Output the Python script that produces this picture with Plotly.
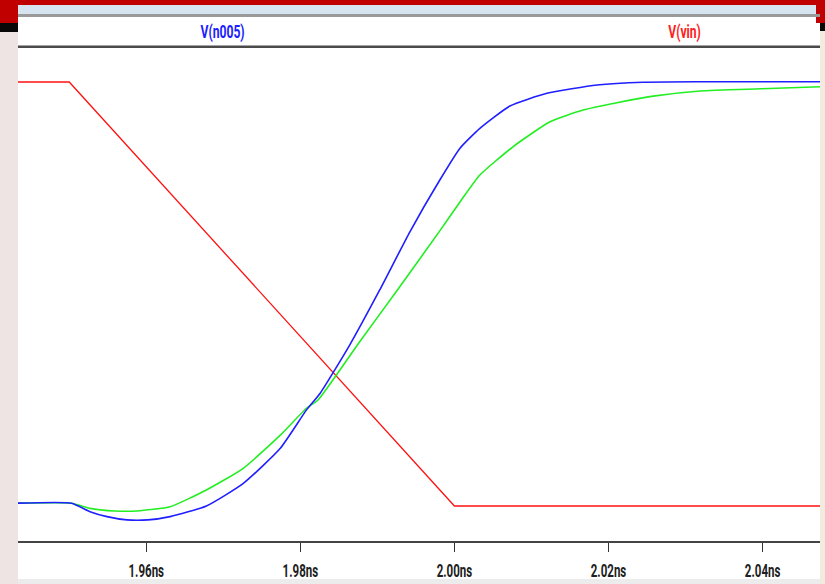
import plotly.graph_objects as go

# ---- data (time in ns, voltage in V) ----
vin_t = [1.9433, 1.950, 2.000, 2.0475]
vin_v = [1.80, 1.80, 0.00, 0.00]

n005_t = [1.9433, 1.9503, 1.9527, 1.9549, 1.9575, 1.9602, 1.9631, 1.9678, 1.9726,
          1.9774, 1.9808, 1.9826, 1.9864, 1.9903, 1.9942, 1.9981, 2.0007, 2.0033,
          2.0072, 2.0120, 2.0185, 2.0245, 2.0319, 2.0475]
n005_v = [0.012, 0.012, -0.024, -0.045, -0.059, -0.059, -0.045, 0.000, 0.096,
          0.245, 0.408, 0.480, 0.683, 0.917, 1.163, 1.384, 1.518, 1.603,
          1.698, 1.752, 1.787, 1.799, 1.801, 1.801]

green_t = [1.9433, 1.9503, 1.9527, 1.9559, 1.9588, 1.9631, 1.9678, 1.9726, 1.9774,
           1.9808, 1.9823, 1.9877, 1.9926, 1.9981, 2.0009, 2.0033, 2.0076, 2.0124,
           2.0167, 2.0211, 2.0258, 2.0319, 2.0397, 2.0475]
green_v = [0.012, 0.012, -0.010, -0.021, -0.021, -0.003, 0.068, 0.160, 0.301,
           0.415, 0.450, 0.697, 0.917, 1.168, 1.299, 1.405, 1.525, 1.631,
           1.681, 1.712, 1.740, 1.762, 1.771, 1.780]

tick_vals = [1.96, 1.98, 2.00, 2.02, 2.04]
tick_text = ["1.96ns", "1.98ns", "2.00ns", "2.02ns", "2.04ns"]

x_range = [1.94335, 2.04745]
y_range = [-0.1486, 1.9443]

W, H = 825, 584
FONT = "Roboto, Liberation Sans, Arial, sans-serif"


def fx(px):
    return px / W


def fy(py):
    return 1 - py / H


fig = go.Figure()
fig.add_trace(go.Scatter(x=vin_t, y=vin_v, mode="lines", name="V(vin)",
                         line=dict(color="#ff1010", width=1.3)))
fig.add_trace(go.Scatter(x=green_t, y=green_v, mode="lines", name="green",
                         line=dict(color="#22ee22", width=1.6, shape="spline", smoothing=0.5)))
fig.add_trace(go.Scatter(x=n005_t, y=n005_v, mode="lines", name="V(n005)",
                         line=dict(color="#1f1fff", width=1.6, shape="spline", smoothing=0.5)))


def rect(x0, y0, x1, y1, color):
    return dict(type="rect", xref="paper", yref="paper",
                x0=fx(x0), x1=fx(x1), y0=fy(y1), y1=fy(y0),
                fillcolor=color, line=dict(width=0), layer="above")


shapes = [
    rect(0, 0, 825, 5, "#c00000"),
    rect(0, 0, 18, 23, "#c00000"),
    rect(0, 23, 18, 32, "#080808"),
    rect(0, 32, 18, 584, "#efe4e4"),
    rect(816, 0, 825, 23, "#c00000"),
    rect(820, 23, 825, 31, "#080808"),
    rect(820, 31, 825, 584, "#f2ece0"),
    rect(18, 5, 816, 14, "#d6e4f0"),
    rect(18, 14, 820, 17, "#9a9a9a"),
    rect(18, 45.5, 820, 48, "#4a4a4a"),
    rect(18, 579, 820, 584, "#ececec"),
]

annotations = [
    dict(text="V(n005)", x=fx(222), y=fy(31), xref="paper", yref="paper",
         showarrow=False, xanchor="center", yanchor="middle",
         font=dict(family=FONT, size=19, color="#2020ff", weight="bold")),
    dict(text="V(vin)", x=fx(684), y=fy(31), xref="paper", yref="paper",
         showarrow=False, xanchor="center", yanchor="middle",
         font=dict(family=FONT, size=19, color="#ff2020", weight="bold")),
]

fig.update_layout(
    width=W, height=H,
    margin=dict(l=0, r=0, t=0, b=0),
    paper_bgcolor="white", plot_bgcolor="white",
    showlegend=False,
    shapes=shapes,
    annotations=annotations,
    xaxis=dict(domain=[fx(18), fx(820)], range=x_range, showgrid=False, zeroline=False,
               showline=True, linecolor="#444444", linewidth=2,
               ticks="outside", ticklen=9, tickwidth=1, tickcolor="#333333",
               tickvals=tick_vals, ticktext=tick_text, ticklabelstandoff=3,
               tickfont=dict(family=FONT, size=18, color="#202020", weight="bold")),
    yaxis=dict(domain=[fy(541), fy(48)], range=y_range, visible=False),
)

post = """
document.body.style.margin='0px';
document.body.style.overflow='hidden';
document.querySelectorAll('.xtick text, .annotation-text').forEach(function(t){
  var b = t.getBBox();
  var cx = b.x + b.width/2, cy = b.y + b.height/2;
  var tr = t.getAttribute('transform') || '';
  t.setAttribute('transform', tr + ' translate(' + cx + ',' + cy + ') scale(0.64,1) translate(' + (-cx) + ',' + (-cy) + ')');
});
"""

fig.write_html("out.html", post_script=post, config={"displayModeBar": False})
